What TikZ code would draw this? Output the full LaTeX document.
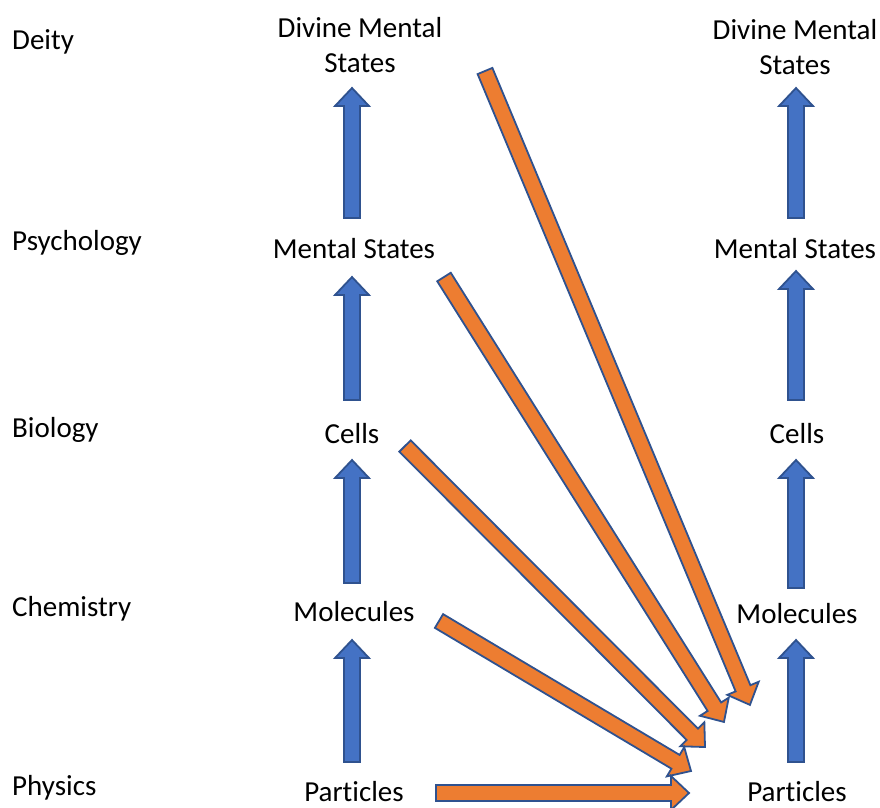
\documentclass[tikz,border=0pt]{standalone}
\usepackage{fontspec}
\setmainfont{Carlito}[Ligatures=NoCommon]
\usetikzlibrary{calc}
\definecolor{bfill}{HTML}{4472C4}
\definecolor{ofill}{HTML}{ED7D31}
\definecolor{edge}{HTML}{2F528F}
\tikzset{
  lbl/.style={inner sep=0pt, font=\fontsize{29}{35}\selectfont, text=black},
  side/.style={lbl, anchor=west},
  colt/.style={lbl, align=center},
  barrowstyle/.style={draw=edge, line width=1.8pt, line join=miter},
}
\newcommand\blockarr[3]{%
  \draw[barrowstyle, fill=#3] let \p1=($(#2)-(#1)$), \n1={atan2(\y1,\x1)}, \n2={veclen(\x1,\y1)} in
    [shift={(#1)}, rotate=\n1] (0pt,-8pt) -- (\n2-18pt,-8pt) -- (\n2-18pt,-17pt) -- (\n2,0pt) -- (\n2-18pt,17pt) -- (\n2-18pt,8pt) -- (0pt,8pt) -- cycle;}
\begin{document}
\begin{tikzpicture}[x=1pt,y=-1pt]
\useasboundingbox (0,0) rectangle (880,807);
% side labels
\node[side] (deity) at (12,42) {Deity};
\node[side] (psy) at (12,243) {Psychology};
\node[side] (bio) at (12,430) {Biology};
\node[side] (chem) at (12,609) {Chemistry};
\node[side] (phys) at (12,788) {Physics};
% left column
\node[colt] (ldiv) at (360,45) {Divine Mental\\States};
\node[colt] (lmen) at (354,249) {Mental States};
\node[colt] (lcel) at (352,434) {Cells};
\node[colt] (lmol) at (354,612) {Molecules};
\node[colt] (lpar) at (354,792) {Particles};
% right column
\node[colt] (rdiv) at (795,47) {Divine Mental\\States};
\node[colt] (rmen) at (795,249) {Mental States};
\node[colt] (rcel) at (797,434) {Cells};
\node[colt] (rmol) at (797,614) {Molecules};
\node[colt] (rpar) at (797,792) {Particles};
% coordinates for block arrows
\coordinate (la1) at (352,218); \coordinate (la1t) at (352,88);
\coordinate (la2) at (352,400); \coordinate (la2t) at (352,277);
\coordinate (la3) at (352,583); \coordinate (la3t) at (352,460);
\coordinate (la4) at (352,762); \coordinate (la4t) at (352,640);
\coordinate (ra1) at (796,218); \coordinate (ra1t) at (796,88);
\coordinate (ra2) at (796,400); \coordinate (ra2t) at (796,271);
\coordinate (ra3) at (796,588); \coordinate (ra3t) at (796,460);
\coordinate (ra4) at (796,762); \coordinate (ra4t) at (796,640);
\coordinate (o1s) at (485,71); \coordinate (o1e) at (750,705);
\coordinate (o2s) at (444,277); \coordinate (o2e) at (724,722);
\coordinate (o3s) at (405,446); \coordinate (o3e) at (705,747);
\coordinate (o4s) at (439,621); \coordinate (o4e) at (691,771);
\coordinate (o5s) at (436,793); \coordinate (o5e) at (689,793);
% blue arrows
\blockarr{la1}{la1t}{bfill}
\blockarr{la2}{la2t}{bfill}
\blockarr{la3}{la3t}{bfill}
\blockarr{la4}{la4t}{bfill}
\blockarr{ra1}{ra1t}{bfill}
\blockarr{ra2}{ra2t}{bfill}
\blockarr{ra3}{ra3t}{bfill}
\blockarr{ra4}{ra4t}{bfill}
% orange arrows
\blockarr{o1s}{o1e}{ofill}
\blockarr{o2s}{o2e}{ofill}
\blockarr{o3s}{o3e}{ofill}
\blockarr{o4s}{o4e}{ofill}
\blockarr{o5s}{o5e}{ofill}
\end{tikzpicture}
\end{document}
